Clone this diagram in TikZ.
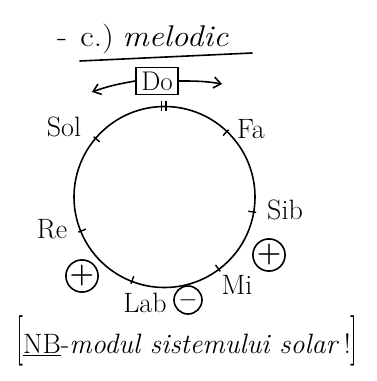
\documentclass[tikz,border=0pt]{standalone}
\usepackage{fontspec}
\usetikzlibrary{arrows.meta,calc}
\begin{document}
\begin{tikzpicture}[x=1pt,y=-1pt,
  hand/.style={line width=1.6pt,line cap=round,line join=round},
  lbl/.style={font=\fontsize{28}{30}\selectfont,inner sep=0pt},
  sign/.style={draw,circle,line width=1.6pt,minimum size=28pt,inner sep=0pt,font=\fontsize{28}{28}\selectfont\bfseries},
  tick/.style={line width=1.4pt}]
\useasboundingbox (0,0) rectangle (376,381);
% title
\node[lbl,anchor=base west,font=\fontsize{30}{32}\selectfont] (title) at (57,46)
  {\scalebox{1.1}[1]{-\hspace{12pt}c.)\hspace{8pt}\textit{melodic}}};
\coordinate (ul1) at (80,61);
\coordinate (ul2) at (252,53);
\draw[hand] (ul1) -- (ul2);
% Do box
\node[draw,line width=1.6pt,minimum width=42pt,minimum height=27pt,inner sep=0pt,font=\fontsize{27}{28}\selectfont] (do) at (157,81) {Do};
\coordinate (la) at (92,92);
\coordinate (ra) at (222,84);
\draw[hand,-{Straight Barb[length=7pt,width=11pt]}] (do.west) to[out=190,in=20] (la);
\draw[hand,-{Straight Barb[length=7pt,width=11pt]}] (do.east) to[out=0,in=170] (ra);
% circle
\coordinate (c) at (164.5,197);
\draw[line width=1.6pt] (c) circle (90.5);
% top mark ||
\draw[tick] ($(c)+(-3,-96)$) -- ($(c)+(-3,-86)$);
\draw[tick] ($(c)+(1.5,-96)$) -- ($(c)+(1.5,-86)$);
% ticks
\foreach \a in {-139.6,-46.4,9.6,157.8,53.1,111.2}
  \draw[tick] ($(c)+(\a:85)$) -- ($(c)+(\a:93)$);
% labels
\node[lbl] (sol) at (64,127) {Sol};
\node[lbl] (fa) at (251,129) {Fa};
\node[lbl] (sib) at (285,210) {Sib};
\node[lbl] (re) at (52,229) {Re};
\node[lbl] (mi) at (237,285) {Mi};
\node[lbl] (lab) at (145,303) {Lab};
\node[sign] (p1) at (269,255) {+};
\node[sign] (p2) at (82,276) {+};
\node[sign] (m1) at (188,300) {$-$};
% bottom
\node[inner sep=0pt,font=\fontsize{28}{30}\selectfont,anchor=center] (nb) at (187,341)
  {\scalebox{1}[1.8]{[}\underline{NB}-\textit{modul sistemului solar}\,!\scalebox{1}[1.8]{]}};
\end{tikzpicture}
\end{document}
